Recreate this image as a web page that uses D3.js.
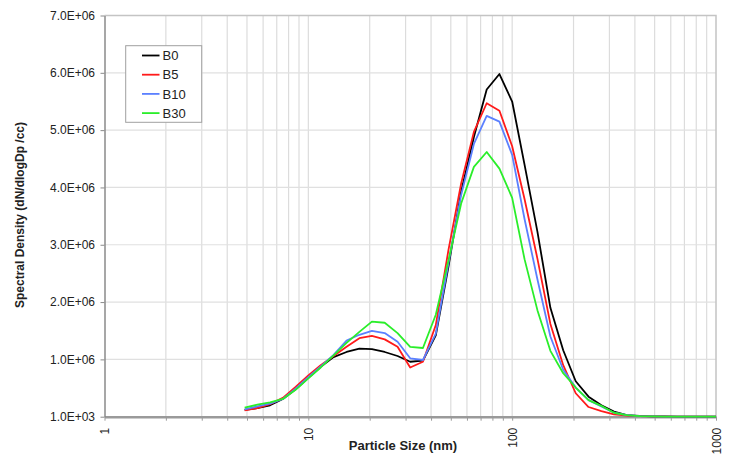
<!DOCTYPE html>
<html>
<head>
<meta charset="utf-8">
<script src="https://cdn.jsdelivr.net/npm/d3@7"></script>
<style>
  html, body { margin: 0; padding: 0; background: #fff; }
  svg { display: block; font-family: Arial, "Liberation Sans", Helvetica, sans-serif; }
</style>
</head>
<body>
<svg id="chart" width="729" height="457"></svg>
<script>
// Particle sizes (nm)
const sizes = [4.87, 5.62, 6.49, 7.50, 8.66, 10.0, 11.5, 13.3, 15.4, 17.8, 20.5, 23.7, 27.4, 31.6, 36.5, 42.2, 48.7, 56.2, 64.9, 75.0, 86.6, 100, 115, 133, 154, 178, 205, 237, 274, 316, 365, 422, 487, 562, 649, 750, 866, 1000];

// Spectral density (dN/dlogDp /cc)
const B0  = [1.2e5, 1.5e5, 2.0e5, 3.1e5, 4.8e5, 6.8e5, 8.7e5, 1.04e6, 1.13e6, 1.19e6, 1.18e6, 1.13e6, 1.06e6, 9.6e5, 9.8e5, 1.42e6, 2.62e6, 3.93e6, 4.88e6, 5.71e6, 5.98e6, 5.50e6, 4.40e6, 3.23e6, 1.90e6, 1.16e6, 6.2e5, 3.5e5, 2.0e5, 9.0e4, 3.0e4, 1.5e4, 8.0e3, 5.0e3, 3.0e3, 2.0e3, 1.5e3, 1.2e3];
const B5  = [1.1e5, 1.5e5, 2.2e5, 3.3e5, 5.2e5, 7.2e5, 9.0e5, 1.06e6, 1.22e6, 1.37e6, 1.41e6, 1.35e6, 1.22e6, 8.6e5, 9.6e5, 1.60e6, 2.91e6, 4.07e6, 4.97e6, 5.47e6, 5.34e6, 4.72e6, 3.80e6, 2.76e6, 1.62e6, 9.0e5, 4.1e5, 1.7e5, 1.0e5, 4.0e4, 2.0e4, 1.0e4, 6.0e3, 4.0e3, 2.5e3, 2.0e3, 1.5e3, 1.2e3];
const B10 = [1.3e5, 1.8e5, 2.3e5, 3.1e5, 4.9e5, 6.9e5, 8.8e5, 1.08e6, 1.33e6, 1.43e6, 1.50e6, 1.46e6, 1.31e6, 1.02e6, 9.9e5, 1.45e6, 2.68e6, 3.87e6, 4.76e6, 5.25e6, 5.15e6, 4.57e6, 3.45e6, 2.40e6, 1.40e6, 8.2e5, 5.1e5, 2.9e5, 1.8e5, 7.0e4, 3.0e4, 1.2e4, 7.0e3, 4.0e3, 3.0e3, 2.0e3, 1.5e3, 1.2e3];
const B30 = [1.6e5, 2.1e5, 2.5e5, 3.1e5, 4.7e5, 6.7e5, 8.6e5, 1.07e6, 1.29e6, 1.48e6, 1.66e6, 1.64e6, 1.46e6, 1.22e6, 1.20e6, 1.78e6, 2.73e6, 3.72e6, 4.36e6, 4.62e6, 4.33e6, 3.82e6, 2.75e6, 1.86e6, 1.15e6, 7.6e5, 5.1e5, 2.9e5, 1.9e5, 7.0e4, 3.0e4, 1.2e4, 7.0e3, 4.0e3, 3.0e3, 2.0e3, 1.5e3, 1.2e3];

const seriesNames  = ["B0", "B5", "B10", "B30"];
const seriesColors = ["#000000", "#ff1a1a", "#5b80ff", "#2aee2a"];
const seriesValues = [B0, B5, B10, B30];

const xTickLabels = [1, 10, 100, 1000];
const yTicks = [1e3, 1.001e6, 2.001e6, 3.001e6, 4.001e6, 5.001e6, 6.001e6, 7.001e6];

const svg = d3.select("#chart");
const L = 104.5, R = 716, T = 15.5, B = 416.7;

const x = d3.scaleLog().domain([1, 1000]).range([L, R]);
const y = d3.scaleLinear().domain([1e3, 7.001e6]).range([B, T]);

// minor grid values
const minorVals = [];
for (let p = 1; p <= 100; p *= 10) for (let m = 1; m < 10; m++) minorVals.push(m * p);
minorVals.push(1000);

// gridlines
svg.append("g").selectAll("line.v").data(minorVals.filter(v => v > 1 && v < 1000)).join("line")
  .attr("x1", d => x(d)).attr("x2", d => x(d)).attr("y1", T).attr("y2", B)
  .attr("stroke", "#dcdcdc").attr("stroke-width", 1.2);
svg.append("g").selectAll("line.h").data(yTicks.slice(1)).join("line")
  .attr("x1", L).attr("x2", R).attr("y1", d => y(d)).attr("y2", d => y(d))
  .attr("stroke", "#e0e0e0").attr("stroke-width", 1.2);

// frame (top/right)
svg.append("path").attr("d", `M${L},${T}H${R}V${B}`).attr("fill", "none")
  .attr("stroke", "#c4c4c4").attr("stroke-width", 1.5);

// X axis
const fmtX = d => xTickLabels.includes(d) ? String(d) : "";
const xAxis = svg.append("g").attr("transform", `translate(0,${B})`)
  .call(d3.axisBottom(x).tickValues(minorVals).tickFormat(fmtX).tickSize(4).tickSizeOuter(0));
xAxis.select(".domain").attr("stroke", "#9a9a9a").attr("stroke-width", 2.5);
xAxis.selectAll(".tick line").attr("stroke", "#9a9a9a");
xAxis.selectAll(".tick text")
  .attr("transform", "rotate(-90)")
  .attr("x", -11).attr("y", 0).attr("dy", "0.35em")
  .attr("text-anchor", "end")
  .attr("font-size", 12).attr("fill", "#222");

// Y axis
const fmtY = d => {
  const s = d.toExponential(1).toUpperCase();
  return s.replace(/E([+-])(\d)$/, "E$10$2");
};
const yAxis = svg.append("g").attr("transform", `translate(${L},0)`)
  .call(d3.axisLeft(y).tickValues(yTicks).tickFormat(fmtY).tickSize(4).tickSizeOuter(0));
yAxis.select(".domain").attr("stroke", "#8a8a8a").attr("stroke-width", 1.5);
yAxis.selectAll(".tick line").attr("stroke", "#8a8a8a");
yAxis.selectAll(".tick text").attr("x", -9.5).attr("font-size", 12).attr("fill", "#222");

// lines
const line = d3.line().x((d, i) => x(sizes[i])).y(d => y(d));
seriesValues.forEach((vals, si) => {
  svg.append("path").datum(vals)
    .attr("d", line)
    .attr("fill", "none")
    .attr("stroke", seriesColors[si])
    .attr("stroke-width", 1.8)
    .attr("stroke-linejoin", "round");
});

// axis titles
svg.append("text").attr("x", 403).attr("y", 450).attr("text-anchor", "middle")
  .attr("font-size", 13).attr("font-weight", "bold").attr("fill", "#222")
  .text("Particle Size (nm)");
svg.append("text").attr("transform", "translate(24,215) rotate(-90)").attr("text-anchor", "middle")
  .attr("font-size", 12).attr("font-weight", "bold").attr("fill", "#222")
  .text("Spectral Density (dN/dlogDp /cc)");

// legend
const lg = svg.append("g");
lg.append("rect").attr("x", 125.7).attr("y", 45.7).attr("width", 76).attr("height", 76.6)
  .attr("fill", "#fff").attr("stroke", "#a0a0a0").attr("stroke-width", 1);
seriesNames.forEach((n, i) => {
  const yy = 55.5 + i * 19.2;
  lg.append("line").attr("x1", 142).attr("x2", 159.5).attr("y1", yy).attr("y2", yy)
    .attr("stroke", seriesColors[i]).attr("stroke-width", 1.8);
  lg.append("text").attr("x", 162.5).attr("y", yy).attr("dy", "0.36em")
    .attr("font-size", 13).attr("fill", "#222").text(n);
});
</script>
</body>
</html>
